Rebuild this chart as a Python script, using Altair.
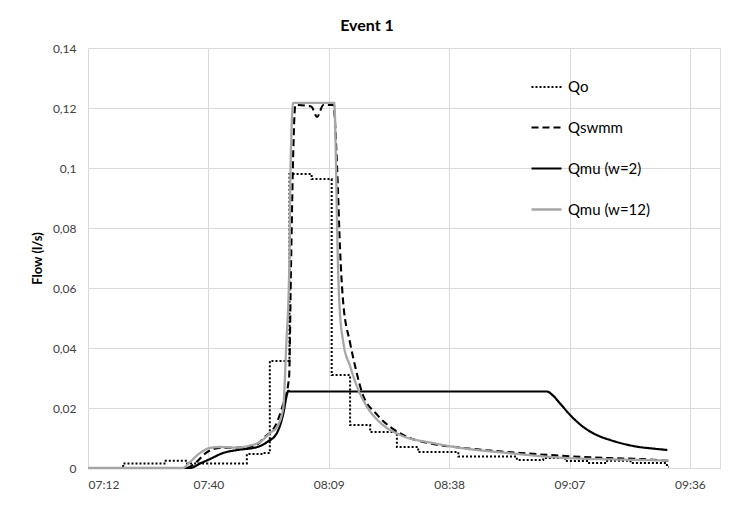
import altair as alt
import pandas as pd

# ---- data (time in minutes after midnight, flow in l/s) ----
SERIES = ["Qo", "Qswmm", "Qmu (w=2)", "Qmu (w=12)"]

QO_T = [432, 440.4, 450.6, 455.4, 470.0, 473.8, 475.5, 480.2, 485.5, 490.3, 494.7,
        499.5, 505.9, 511.0, 520.6, 534.6, 540.9, 546.2, 551.4, 556.2, 561.8, 570.5, 570.9]
QO_V = [0, 0.0015, 0.0024, 0.0015, 0.0047, 0.005, 0.0357, 0.098, 0.0963, 0.031, 0.0143,
        0.012, 0.007, 0.0053, 0.0038, 0.0027, 0.0033, 0.0023, 0.0017, 0.0024, 0.0017, 0.0004, 0.0004]

QSWMM_T = [432, 455.5, 457.1, 460.5, 463.6, 468.4, 472.0, 474.4, 476.8, 478.4, 480.1, 480.6,
           481.1, 481.6, 485.4, 486.8, 488.3, 490.7, 491.6, 492.3, 493.0, 494.7, 495.9, 497.6,
           501.2, 504.3, 507.4, 514.6, 521.1, 528.2, 535.4, 542.6, 549.8, 557.0, 564.2, 570.9]
QSWMM_V = [0, 0, 0.001, 0.0053, 0.0067, 0.0068, 0.0075, 0.0105, 0.014, 0.02, 0.03, 0.07,
           0.105, 0.121, 0.1205, 0.117, 0.121, 0.121, 0.1, 0.073, 0.056, 0.0417, 0.034, 0.025,
           0.0177, 0.0137, 0.011, 0.008, 0.0068, 0.0058, 0.005, 0.0043, 0.0037, 0.0033, 0.003, 0.0024]

QMU2_T = [432, 456.4, 458.8, 461.2, 464.3, 467.7, 472.5, 474.9, 477.2, 478.7, 479.6, 479.9,
          480.4, 541.8, 543.2, 545.0, 547.4, 549.5, 551.5, 554.0, 557.0, 560.0, 563.4, 567.0, 570.6]
QMU2_V = [0, 0, 0.0015, 0.003, 0.005, 0.006, 0.007, 0.0087, 0.0117, 0.018, 0.0245, 0.0257,
          0.0255, 0.0255, 0.0242, 0.0214, 0.0176, 0.0148, 0.0127, 0.0108, 0.0093, 0.0081,
          0.0071, 0.0065, 0.006]

QMU12_T = [432, 454.7, 456.4, 458.8, 461.2, 463.6, 467.7, 470.8, 473.2, 475.6, 477.2, 478.7,
           479.4, 480.2, 480.4, 481.1, 490.9, 491.4, 491.6, 492.1, 493.1, 494.7, 496.4, 498.8,
           502.6, 506.7, 514.6, 521.1, 532.3, 546.7, 559.4, 570.9]
QMU12_V = [0, 0, 0.002, 0.005, 0.0067, 0.007, 0.0068, 0.0075, 0.0087, 0.0117, 0.0137, 0.02,
           0.04, 0.07, 0.096, 0.1217, 0.1217, 0.096, 0.08, 0.056, 0.0417, 0.034, 0.027, 0.0203,
           0.0143, 0.011, 0.0083, 0.0067, 0.005, 0.0033, 0.0028, 0.0025]

X_TICKS = [432, 460.8, 489.6, 518.4, 547.2, 576]
X_TICK_LABELS = ["07:12", "07:40", "08:09", "08:38", "09:07", "09:36"]
Y_TICKS = [0, 0.02, 0.04, 0.06, 0.08, 0.1, 0.12, 0.14]
Y_TICK_LABELS = ["0", "0,02", "0,04", "0,06", "0,08", "0,1", "0,12", "0,14"]

rows = []
for name, ts, vs in [("Qo", QO_T, QO_V), ("Qswmm", QSWMM_T, QSWMM_V),
                     ("Qmu (w=2)", QMU2_T, QMU2_V), ("Qmu (w=12)", QMU12_T, QMU12_V)]:
    for t, v in zip(ts, vs):
        rows.append({"series": name, "t": t, "q": v})
df = pd.DataFrame(rows)


def label_expr(values, labels):
    vals = ",".join(repr(v) for v in values)
    labs = ",".join("'" + s + "'" for s in labels)
    return f"[{labs}][indexof([{vals}], datum.value)]"


FONT = "Lato"

legend = alt.Legend(
    title=None, orient="none", legendX=442, legendY=23,
    symbolType="stroke", symbolSize=900, labelFont=FONT, labelFontSize=15,
    labelColor="#000000", labelOffset=5, rowPadding=16,
)

color_scale = alt.Scale(domain=SERIES, range=["#000000", "#000000", "#000000", "#a6a6a6"])
dash_scale = alt.Scale(domain=SERIES, range=[[2, 2], [7, 4], [1, 0], [1, 0]])
width_scale = alt.Scale(domain=SERIES, range=[2, 2.3, 2.2, 2.6])

base = alt.Chart(df).encode(
    x=alt.X("t:Q", scale=alt.Scale(domain=[432, 583.2], nice=False, zero=False),
            axis=alt.Axis(values=X_TICKS, labelExpr=label_expr(X_TICKS, X_TICK_LABELS),
                          title=None, grid=True, gridColor="#d9d9d9", ticks=False,
                          domainColor="#d9d9d9", labelFont=FONT, labelFontSize=12,
                          labelColor="#404040", labelPadding=11)),
    y=alt.Y("q:Q", scale=alt.Scale(domain=[0, 0.14], nice=False),
            axis=alt.Axis(values=Y_TICKS, labelExpr=label_expr(Y_TICKS, Y_TICK_LABELS),
                          title="Flow (l/s)", grid=True, gridColor="#d9d9d9", ticks=False,
                          domain=False, labelFont=FONT, labelFontSize=12,
                          labelColor="#404040", labelPadding=12, titleFont=FONT,
                          titleFontSize=13, titleFontWeight="bold", titlePadding=8)),
    color=alt.Color("series:N", scale=color_scale, legend=legend, sort=SERIES),
    strokeDash=alt.StrokeDash("series:N", scale=dash_scale, legend=legend, sort=SERIES),
    strokeWidth=alt.StrokeWidth("series:N", scale=width_scale, legend=legend, sort=SERIES),
)

qo = base.transform_filter(alt.datum.series == "Qo").mark_line(interpolate="step-after")
others = base.transform_filter(alt.datum.series != "Qo").mark_line(interpolate="monotone")

chart = alt.layer(qo, others).properties(
    width=632, height=420,
    title=alt.TitleParams("Event 1", font=FONT, fontSize=16, fontWeight="bold",
                          anchor="middle", dx=-37, offset=8, color="#000000"),
    autosize=alt.AutoSizeParams(type="none"),
    padding={"left": 88, "top": 48, "right": 19, "bottom": 37},
).configure_view(stroke=None).configure(background="white")

chart.save("out.html", embed_options={"renderer": "svg", "actions": False})
